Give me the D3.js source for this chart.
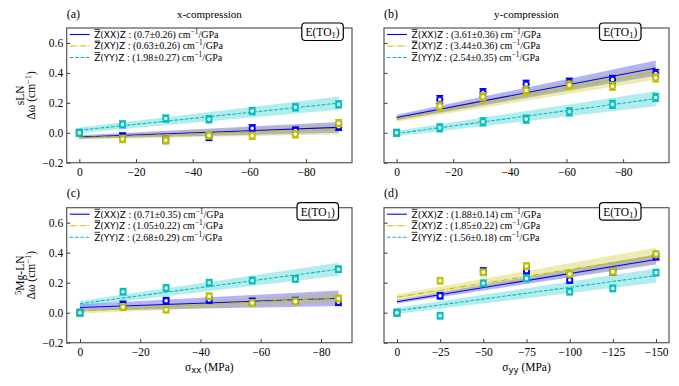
<!DOCTYPE html>
<html><head><meta charset="utf-8">
<script src="https://cdn.jsdelivr.net/npm/d3@7"></script>
<style>body{margin:0;background:#fff}svg{display:block}</style>
</head><body>
<svg id="chart" width="679" height="386"></svg>
<script>
// ---------- DATA ----------
const seriesNames = ["XX", "XY", "YY"];
const seriesColors = ["#0000ff", "#bfbf00", "#00bfbf"];
const yTickValues = [-0.2, 0, 0.2, 0.4, 0.6];
const xTickValues_abc = [0, -20, -40, -60, -80];
const xTickValues_d = [0, -25, -50, -75, -100, -125, -150];

// (a) sLN, x-compression
const stress_a = [0, -15.25, -30.5, -45.75, -61, -76.25, -91.5];
const xx_a = [0, -0.024, -0.048, -0.028, 0.03, 0.015, 0.04];
const xy_a = [0, -0.042, -0.05, -0.018, -0.02, -0.01, 0.064];
const yy_a = [0, 0.056, 0.095, 0.09, 0.145, 0.17, 0.19];
const err_a = [0.02, 0.022, 0.022, 0.022, 0.022, 0.022, 0.022];
const slope_a = [0.7, 0.63, 1.98];
const slopeErr_a = [0.26, 0.26, 0.27];
const intercept_a = [-0.028, -0.033, 0.017];
const interceptErr_a = [0.012, 0.012, 0.019];

// (b) sLN, y-compression
const stress_b = [0, -15.25, -30.5, -45.75, -61, -76.25, -91.5];
const xx_b = [0, 0.222, 0.268, 0.324, 0.338, 0.356, 0.396];
const xy_b = [0, 0.178, 0.24, 0.284, 0.318, 0.311, 0.367];
const yy_b = [0, 0.033, 0.073, 0.091, 0.14, 0.19, 0.236];
const err_b = [0.02, 0.025, 0.025, 0.025, 0.025, 0.025, 0.025];
const slope_b = [3.61, 3.44, 2.54];
const slopeErr_b = [0.36, 0.36, 0.35];
const intercept_b = [0.102, 0.091, -0.005];
const interceptErr_b = [0.018, 0.018, 0.018];

// (c) 5Mg-LN, x-compression
const stress_c = [0, -14.3, -28.6, -42.9, -57.2, -71.5, -85.8];
const xx_c = [0, 0.055, 0.08, 0.085, 0.075, 0.08, 0.07];
const xy_c = [0, 0.038, 0.02, 0.11, 0.065, 0.075, 0.095];
const yy_c = [0, 0.14, 0.165, 0.2, 0.215, 0.225, 0.29];
const err_c = [0.02, 0.02, 0.02, 0.02, 0.02, 0.02, 0.02];
const slope_c = [0.71, 1.05, 2.68];
const slopeErr_c = [0.35, 0.22, 0.29];
const intercept_c = [0.035, 0.01, 0.06];
const interceptErr_c = [0.022, 0.015, 0.018];

// (d) 5Mg-LN, y-compression
const stress_d = [0, -25, -50, -75, -100, -125, -150];
const xx_d = [0, 0.113, 0.278, 0.28, 0.218, 0.273, 0.373];
const xy_d = [0, 0.213, 0.269, 0.311, 0.258, 0.273, 0.391];
const yy_d = [0, -0.02, 0.196, 0.229, 0.14, 0.162, 0.267];
const err_d = [0.02, 0.02, 0.02, 0.02, 0.02, 0.02, 0.02];
const slope_d = [1.88, 1.85, 1.56];
const slopeErr_d = [0.14, 0.22, 0.18];
const intercept_d = [0.073, 0.103, 0.013];
const interceptErr_d = [0.012, 0.02, 0.02];

// ---------- DRAWING ----------
const SERIF = "'Liberation Serif','Times New Roman',serif";
const SANS = "'DejaVu Sans',sans-serif";
const svg = d3.select("#chart");
const dashes = [null, "6.4,1.6,1,1.6", "3.7,1.6"];
const fmtY = d3.format(".1f");
const fmtX = d3.format("d");

function drawPanel(p) {
  const g = svg.append("g");
  const x = d3.scaleLinear().domain(p.xDomain).range([p.left, p.right]);
  const y = d3.scaleLinear().domain([-0.2, 0.7]).range([p.bottom, p.top]);
  const xs = [0, d3.min(p.stress)];

  // bands
  p.series.forEach((vals, i) => {
    const b = p.intercept[i], ie = p.interceptErr[i];
    const s = p.slope[i] / 1000, se = p.slopeErr[i] / 1000;
    const area = d3.area()
      .x(d => x(d))
      .y0(d => y(b - ie + (s - se) * (-d)))
      .y1(d => y(b + ie + (s + se) * (-d)));
    g.append("path").attr("d", area(xs))
      .attr("fill", seriesColors[i]).attr("fill-opacity", 0.3);
  });
  // fit lines
  p.series.forEach((vals, i) => {
    const b = p.intercept[i], s = p.slope[i] / 1000;
    const line = d3.line().x(d => x(d)).y(d => y(b + s * (-d)));
    g.append("path").attr("d", line(xs)).attr("fill", "none")
      .attr("stroke", seriesColors[i]).attr("stroke-width", 1.1)
      .attr("stroke-dasharray", dashes[i]);
  });
  // points with error bars
  p.series.forEach((vals, i) => {
    const c = seriesColors[i];
    const pg = g.append("g");
    vals.forEach((v, k) => {
      const px = x(p.stress[k]);
      const e = p.err[k];
      pg.append("line").attr("x1", px).attr("x2", px)
        .attr("y1", y(v - e)).attr("y2", y(v + e))
        .attr("stroke", c).attr("stroke-width", 1.8);
      [v - e, v + e].forEach(cv => {
        pg.append("line").attr("x1", px - 3.5).attr("x2", px + 3.5)
          .attr("y1", y(cv)).attr("y2", y(cv))
          .attr("stroke", c).attr("stroke-width", 1.8);
      });
      pg.append("circle").attr("cx", px).attr("cy", y(v)).attr("r", 2.7)
        .attr("fill", "#fff").attr("stroke", c).attr("stroke-width", 1.8);
    });
  });

  // axes
  const xa = g.append("g").attr("transform", `translate(0,${p.bottom})`)
    .call(d3.axisBottom(x).tickValues(p.xTicks).tickFormat(fmtX)
      .tickSizeInner(-3.5).tickSizeOuter(0).tickPadding(5));
  const ya = g.append("g").attr("transform", `translate(${p.left},0)`)
    .call(d3.axisLeft(y).tickValues(yTickValues)
      .tickFormat(p.showY ? fmtY : () => "")
      .tickSizeInner(-3.5).tickSizeOuter(0).tickPadding(3.5));
  [xa, ya].forEach(a => {
    a.select(".domain").remove();
    a.selectAll("line").attr("stroke", "#333").attr("stroke-width", 1);
    a.selectAll("text").attr("font-family", SERIF).attr("font-size", 11.5).attr("fill", "#000");
  });
  // frame
  g.append("rect").attr("x", p.left).attr("y", p.top)
    .attr("width", p.right - p.left).attr("height", p.bottom - p.top)
    .attr("fill", "none").attr("stroke", "#555").attr("stroke-width", 1.2);

  // legend
  p.series.forEach((vals, i) => {
    const hy = p.top + 6.5 + 11.5 * i;
    g.append("line").attr("x1", p.left + 3).attr("x2", p.left + 23)
      .attr("y1", hy).attr("y2", hy).attr("stroke", seriesColors[i])
      .attr("stroke-width", 1.1).attr("stroke-dasharray", dashes[i]);
    const tx = p.left + 27.5, ty = hy + 3.4;
    const t = g.append("text").attr("x", tx).attr("y", ty).attr("fill", "#000");
    t.append("tspan").attr("font-family", SANS).attr("font-size", 9)
      .text(`Z(${seriesNames[i]})Z`);
    t.append("tspan").attr("font-family", SERIF).attr("font-size", 10)
      .text(` : (${p.slope[i]}±${p.slopeErr[i]}) cm`);
    t.append("tspan").attr("font-family", SERIF).attr("font-size", 7.5).attr("dy", -4).text("−1");
    t.append("tspan").attr("font-family", SERIF).attr("font-size", 10).attr("dy", 4).text("/GPa");
    const zw = t.node().getSubStringLength(0, 1);
    g.append("line").attr("x1", tx + 0.3).attr("x2", tx + zw - 0.3)
      .attr("y1", ty - 8.3).attr("y2", ty - 8.3).attr("stroke", "#000").attr("stroke-width", 0.8);
  });

  // E(TO1) box
  const bw = 41.5, bh = 17.5;
  const bx = p.right - p.boxRight - bw, by = p.top - 5;
  g.append("rect").attr("x", bx).attr("y", by).attr("width", bw).attr("height", bh)
    .attr("rx", 3.5).attr("fill", "#fff").attr("stroke", "#000").attr("stroke-width", 1.2);
  const et = g.append("text").attr("x", bx + bw / 2).attr("y", by + 12.8)
    .attr("text-anchor", "middle").attr("font-family", SERIF).attr("font-size", 11.5);
  et.append("tspan").text("E(TO");
  et.append("tspan").attr("font-size", 8.5).attr("dy", 2.5).text("1");
  et.append("tspan").attr("dy", -2.5).text(")");

  // tag & title
  g.append("text").attr("x", p.left).attr("y", p.top - 10.5)
    .attr("font-family", SERIF).attr("font-size", 12).text(p.tag);
  if (p.title) {
    g.append("text").attr("x", (p.left + p.right) / 2).attr("y", p.top - 10.5)
      .attr("text-anchor", "middle").attr("font-family", SERIF).attr("font-size", 11)
      .text(p.title);
  }
  // y label
  if (p.ylabel) {
    const cy = (p.top + p.bottom) / 2;
    const yl = g.append("g").attr("transform", `translate(0,${cy}) rotate(-90)`);
    const l1 = yl.append("text").attr("x", 0).attr("y", 23.5).attr("text-anchor", "middle")
      .attr("font-family", SERIF).attr("font-size", 11.5);
    if (p.ylabelSup) {
      l1.append("tspan").attr("font-size", 8.5).attr("dy", -3).text(p.ylabelSup);
      l1.append("tspan").attr("dy", 3).text(p.ylabel);
    } else {
      l1.text(p.ylabel);
    }
    const l2 = yl.append("text").attr("x", 0).attr("y", 35).attr("text-anchor", "middle")
      .attr("font-family", SERIF).attr("font-size", 11.5);
    l2.append("tspan").text("Δω (cm");
    l2.append("tspan").attr("font-size", 8.5).attr("dy", -4).text("−1");
    l2.append("tspan").attr("dy", 4).text(")");
  }
  // x label
  if (p.xlabelSub) {
    const xl = g.append("text").attr("x", (p.left + p.right) / 2).attr("y", p.bottom + 28)
      .attr("text-anchor", "middle").attr("font-family", SERIF).attr("font-size", 11.5);
    xl.append("tspan").text("σ");
    xl.append("tspan").attr("font-family", SANS).attr("font-size", 8.5).attr("dy", 2.5).text(p.xlabelSub);
    xl.append("tspan").attr("dy", -2.5).text(" (MPa)");
  }
}

const L1 = 66.7, R1 = 352, L2 = 384, R2 = 669;
const T1 = 28, B1 = 162.7, T2 = 207.7, B2 = 342.7;

drawPanel({ left: L1, right: R1, top: T1, bottom: B1, xDomain: [4.45, -96.2], xTicks: xTickValues_abc,
  stress: stress_a, series: [xx_a, xy_a, yy_a], err: err_a, slope: slope_a, slopeErr: slopeErr_a,
  intercept: intercept_a, interceptErr: interceptErr_a, showY: true, tag: "(a)", title: "x-compression",
  ylabel: "sLN", boxRight: 8.7 });
drawPanel({ left: L2, right: R2, top: T1, bottom: B1, xDomain: [4.45, -96.2], xTicks: xTickValues_abc,
  stress: stress_b, series: [xx_b, xy_b, yy_b], err: err_b, slope: slope_b, slopeErr: slopeErr_b,
  intercept: intercept_b, interceptErr: interceptErr_b, showY: false, tag: "(b)", title: "y-compression",
  boxRight: 28 });
drawPanel({ left: L1, right: R1, top: T2, bottom: B2, xDomain: [4.4, -90.3], xTicks: xTickValues_abc,
  stress: stress_c, series: [xx_c, xy_c, yy_c], err: err_c, slope: slope_c, slopeErr: slopeErr_c,
  intercept: intercept_c, interceptErr: interceptErr_c, showY: true, tag: "(c)",
  ylabel: "Mg-LN", ylabelSup: "5", xlabelSub: "xx", boxRight: 13.5 });
drawPanel({ left: L2, right: R2, top: T2, bottom: B2, xDomain: [7.5, -157.5], xTicks: xTickValues_d,
  stress: stress_d, series: [xx_d, xy_d, yy_d], err: err_d, slope: slope_d, slopeErr: slopeErr_d,
  intercept: intercept_d, interceptErr: interceptErr_d, showY: false, tag: "(d)",
  xlabelSub: "yy", boxRight: 28 });
</script>
</body></html>
